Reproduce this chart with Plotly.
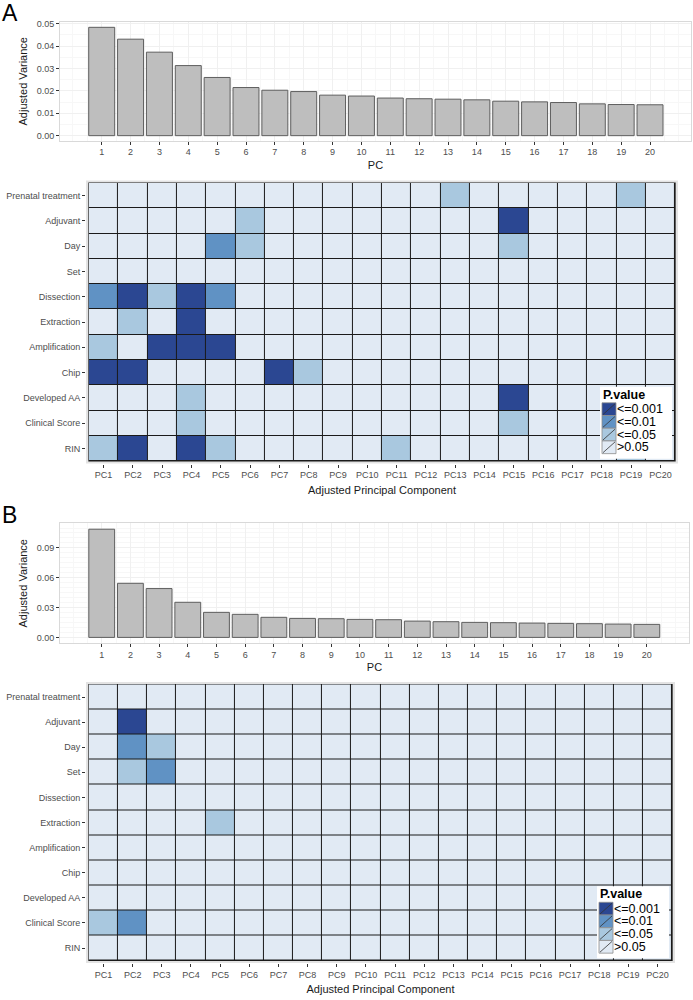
import plotly.graph_objects as go

# ---------------- data ----------------
pc_numbers = list(range(1, 21))
pc_labels = ["PC%d" % i for i in pc_numbers]
covariates = ["Prenatal treatment", "Adjuvant", "Day", "Set", "Dissection",
              "Extraction", "Amplification", "Chip", "Developed AA",
              "Clinical Score", "RIN"]

variance_A = [0.0484, 0.0431, 0.0373, 0.0313, 0.0260, 0.0215, 0.0203, 0.0197,
              0.0181, 0.0177, 0.0168, 0.0165, 0.0163, 0.0160, 0.0154, 0.0151,
              0.0148, 0.0142, 0.0139, 0.0138]
variance_B = [0.1088, 0.0544, 0.0491, 0.0353, 0.0252, 0.0232, 0.0202, 0.0191,
              0.0188, 0.0181, 0.0178, 0.0164, 0.0158, 0.0151, 0.0148, 0.0144,
              0.0141, 0.0138, 0.0134, 0.0131]

# p-value class: 0 = >0.05, 1 = <=0.05, 2 = <=0.01, 3 = <=0.001
pclass_A = [
    [0, 0, 0, 0, 0, 0, 0, 0, 0, 0, 0, 0, 1, 0, 0, 0, 0, 0, 1, 0],  # Prenatal treatment
    [0, 0, 0, 0, 0, 1, 0, 0, 0, 0, 0, 0, 0, 0, 3, 0, 0, 0, 0, 0],  # Adjuvant
    [0, 0, 0, 0, 2, 1, 0, 0, 0, 0, 0, 0, 0, 0, 1, 0, 0, 0, 0, 0],  # Day
    [0, 0, 0, 0, 0, 0, 0, 0, 0, 0, 0, 0, 0, 0, 0, 0, 0, 0, 0, 0],  # Set
    [2, 3, 1, 3, 2, 0, 0, 0, 0, 0, 0, 0, 0, 0, 0, 0, 0, 0, 0, 0],  # Dissection
    [0, 1, 0, 3, 0, 0, 0, 0, 0, 0, 0, 0, 0, 0, 0, 0, 0, 0, 0, 0],  # Extraction
    [1, 0, 3, 3, 3, 0, 0, 0, 0, 0, 0, 0, 0, 0, 0, 0, 0, 0, 0, 0],  # Amplification
    [3, 3, 0, 0, 0, 0, 3, 1, 0, 0, 0, 0, 0, 0, 0, 0, 0, 0, 0, 0],  # Chip
    [0, 0, 0, 1, 0, 0, 0, 0, 0, 0, 0, 0, 0, 0, 3, 0, 0, 0, 0, 0],  # Developed AA
    [0, 0, 0, 1, 0, 0, 0, 0, 0, 0, 0, 0, 0, 0, 1, 0, 0, 0, 0, 0],  # Clinical Score
    [1, 3, 0, 3, 1, 0, 0, 0, 0, 0, 1, 0, 0, 0, 0, 0, 0, 0, 1, 0],  # RIN
]
pclass_B = [
    [0, 0, 0, 0, 0, 0, 0, 0, 0, 0, 0, 0, 0, 0, 0, 0, 0, 0, 0, 0],  # Prenatal treatment
    [0, 3, 0, 0, 0, 0, 0, 0, 0, 0, 0, 0, 0, 0, 0, 0, 0, 0, 0, 0],  # Adjuvant
    [0, 2, 1, 0, 0, 0, 0, 0, 0, 0, 0, 0, 0, 0, 0, 0, 0, 0, 0, 0],  # Day
    [0, 1, 2, 0, 0, 0, 0, 0, 0, 0, 0, 0, 0, 0, 0, 0, 0, 0, 0, 0],  # Set
    [0, 0, 0, 0, 0, 0, 0, 0, 0, 0, 0, 0, 0, 0, 0, 0, 0, 0, 0, 0],  # Dissection
    [0, 0, 0, 0, 1, 0, 0, 0, 0, 0, 0, 0, 0, 0, 0, 0, 0, 0, 0, 0],  # Extraction
    [0, 0, 0, 0, 0, 0, 0, 0, 0, 0, 0, 0, 0, 0, 0, 0, 0, 0, 0, 0],  # Amplification
    [0, 0, 0, 0, 0, 0, 0, 0, 0, 0, 0, 0, 0, 0, 0, 0, 0, 0, 0, 0],  # Chip
    [0, 0, 0, 0, 0, 0, 0, 0, 0, 0, 0, 0, 0, 0, 0, 0, 0, 0, 0, 0],  # Developed AA
    [1, 2, 0, 0, 0, 0, 0, 0, 0, 0, 0, 0, 0, 0, 0, 0, 0, 0, 0, 0],  # Clinical Score
    [0, 0, 0, 0, 0, 0, 0, 0, 0, 0, 0, 0, 0, 0, 0, 0, 0, 0, 0, 0],  # RIN
]

legend_labels = ["<=0.001", "<=0.01", "<=0.05", ">0.05"]
legend_classes = [3, 2, 1, 0]
class_colors = ["#E1EAF4", "#A9C8DF", "#6092C4", "#2B4792"]

# ---------------- layout helpers ----------------
W, H = 693, 1000
FONT = "Liberation Sans, Arial, sans-serif"


def px_x(x):
    return x / W


def px_y(y):
    return 1 - y / H


fig = go.Figure()

# bar panels
bar_specs = [
    dict(vals=variance_A, xa="x", ya="y", xdom=(60, 691), ydom=(19, 138),
         xrange=[-0.445, 21.42], yrange=[-0.0022, 0.0508],
         yticks=[0, 0.01, 0.02, 0.03, 0.04, 0.05]),
    dict(vals=variance_B, xa="x3", ya="y3", xdom=(60, 689), ydom=(522, 642),
         xrange=[-0.454, 21.47], yrange=[-0.0057, 0.1146],
         yticks=[0, 0.03, 0.06, 0.09]),
]
heat_specs = [
    dict(z=pclass_A, xa="x2", ya="y2", xdom=(86, 678), ydom=(178, 462)),
    dict(z=pclass_B, xa="x4", ya="y4", xdom=(86, 675), ydom=(681, 963)),
]

tick_font = dict(family=FONT, size=9, color="#4D4D4D")
title_font = dict(family=FONT, size=11, color="#1A1A1A")

for s in bar_specs:
    fig.add_trace(go.Bar(
        x=pc_numbers, y=s["vals"], width=0.9,
        marker=dict(color="#BEBEBE", line=dict(color="#5E5E5E", width=1)),
        xaxis=s["xa"], yaxis=s["ya"], showlegend=False, hoverinfo="skip"))
    xk = "xaxis" + s["xa"][1:]
    yk = "yaxis" + s["ya"][1:]
    fig.layout[xk] = dict(
        domain=[px_x(s["xdom"][0]), px_x(s["xdom"][1])], anchor=s["ya"],
        range=s["xrange"], tickvals=pc_numbers, ticks="outside", ticklen=3,
        tickcolor="#333333", tickfont=tick_font, showgrid=True,
        gridcolor="#F0F0F0", gridwidth=1, zeroline=False,
        minor=dict(dtick=0.5, tick0=0.5, showgrid=True, gridcolor="#F7F7F7"),
        showline=True, linecolor="#D9D9D9", mirror=True,
        title=dict(text="PC", font=title_font, standoff=4))
    fig.layout[yk] = dict(
        domain=[px_y(s["ydom"][1]), px_y(s["ydom"][0])], anchor=s["xa"],
        range=s["yrange"], tickvals=s["yticks"], tickformat=".2f",
        ticks="outside", ticklen=3, tickcolor="#333333", tickfont=tick_font,
        showgrid=True, gridcolor="#F0F0F0", zeroline=False,
        minor=dict(showgrid=True, gridcolor="#F7F7F7"),
        showline=True, linecolor="#D9D9D9", mirror=True,
        title=dict(text="Adjusted Variance", font=title_font, standoff=6))

colorscale = []
for i, c in enumerate(class_colors):
    colorscale.append([i / 4, c])
    colorscale.append([(i + 1) / 4, c])

shapes = []
annotations = []
for s in heat_specs:
    fig.add_trace(go.Heatmap(
        z=s["z"], x=list(range(20)), y=list(range(11)), zmin=-0.5, zmax=3.5,
        colorscale=colorscale, showscale=False, xgap=1, ygap=1,
        xaxis=s["xa"], yaxis=s["ya"], hoverinfo="skip"))
    xk = "xaxis" + s["xa"][1:]
    yk = "yaxis" + s["ya"][1:]
    fig.layout[xk] = dict(
        domain=[px_x(s["xdom"][0]), px_x(s["xdom"][1])], anchor=s["ya"],
        range=[-0.6, 19.6], tickvals=list(range(20)), ticktext=pc_labels,
        ticks="outside", ticklen=3, tickcolor="#333333", tickfont=tick_font,
        showgrid=False, zeroline=False, showline=False,
        title=dict(text="Adjusted Principal Component", font=title_font, standoff=6))
    fig.layout[yk] = dict(
        domain=[px_y(s["ydom"][1]), px_y(s["ydom"][0])], anchor=s["xa"],
        range=[10.6, -0.6], tickvals=list(range(11)), ticktext=covariates,
        ticks="outside", ticklen=3, tickcolor="#333333", tickfont=tick_font,
        showgrid=False, zeroline=False, showline=False)
    # black grid behind tiles
    shapes.append(dict(type="rect", xref=s["xa"], yref=s["ya"],
                       x0=-0.52, x1=19.52, y0=-0.52, y1=10.52,
                       fillcolor="#1A1A1A", line=dict(width=0), layer="below"))
    # grey panel background
    shapes.append(dict(type="rect", xref="paper", yref="paper",
                       x0=px_x(s["xdom"][0]), x1=px_x(s["xdom"][1]),
                       y0=px_y(s["ydom"][1]), y1=px_y(s["ydom"][0]),
                       fillcolor="#E3E3E3", line=dict(width=0), layer="below"))

    # legend (drawn as a guide inside the panel)
    right = s["xdom"][1] - 6
    bottom = s["ydom"][1] - 5
    left = right - 72
    top = bottom - 72
    shapes.append(dict(type="rect", xref="paper", yref="paper",
                       x0=px_x(left), x1=px_x(right), y0=px_y(bottom), y1=px_y(top),
                       fillcolor="white", line=dict(width=0), layer="above"))
    annotations.append(dict(text="<b>P.value</b>", xref="paper", yref="paper",
                            x=px_x(left + 1), y=px_y(top + 8), xanchor="left",
                            yanchor="middle", showarrow=False,
                            font=dict(family=FONT, size=12.5, color="black")))
    for i, (lab, cls) in enumerate(zip(legend_labels, legend_classes)):
        sy0 = top + 16 + i * 12.75
        sy1 = sy0 + 12.75
        sx0 = left + 2
        sx1 = sx0 + 14
        shapes.append(dict(type="rect", xref="paper", yref="paper",
                           x0=px_x(sx0), x1=px_x(sx1), y0=px_y(sy1), y1=px_y(sy0),
                           fillcolor=class_colors[cls],
                           line=dict(color="#8C8C8C", width=0.8), layer="above"))
        shapes.append(dict(type="line", xref="paper", yref="paper",
                           x0=px_x(sx0 + 1), x1=px_x(sx1 - 1),
                           y0=px_y(sy1 - 1), y1=px_y(sy0 + 1),
                           line=dict(color="#333333", width=0.8), layer="above"))
        annotations.append(dict(text=lab, xref="paper", yref="paper",
                                x=px_x(sx1), y=px_y((sy0 + sy1) / 2),
                                xanchor="left", yanchor="middle", showarrow=False,
                                borderpad=0,
                                font=dict(family=FONT, size=12.5, color="black")))

# panel letters
annotations.append(dict(text="A", xref="paper", yref="paper", x=0, y=px_y(-5),
                        xanchor="left", yanchor="top", showarrow=False,
                        font=dict(family=FONT, size=23, color="black")))
annotations.append(dict(text="B", xref="paper", yref="paper", x=0, y=px_y(498),
                        xanchor="left", yanchor="top", showarrow=False,
                        font=dict(family=FONT, size=23, color="black")))

fig.update_layout(
    width=W, height=H, margin=dict(l=0, r=0, t=0, b=0),
    paper_bgcolor="white", plot_bgcolor="white",
    shapes=shapes, annotations=annotations, showlegend=False,
    font=dict(family=FONT), hovermode=False,
)

fig.write_html("out.html", config={"displayModeBar": False},
               post_script="document.body.style.margin='0';document.body.style.overflow='hidden';")
